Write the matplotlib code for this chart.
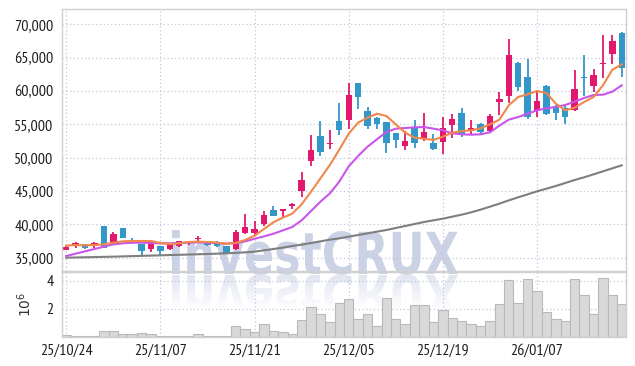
import matplotlib
matplotlib.use("Agg")
import matplotlib.pyplot as plt
import numpy as np
from matplotlib.ticker import FuncFormatter
from matplotlib.textpath import TextPath
from matplotlib.patches import PathPatch
from matplotlib.font_manager import FontProperties
from matplotlib.transforms import Affine2D, Bbox

plt.rcParams['font.family'] = ['PT Sans Narrow', 'DejaVu Sans']

# ---- data ----
tick_pos = [0, 10, 20, 30, 40, 50]
tick_labels = ["25/10/24", "25/11/07", "25/11/21", "25/12/05", "25/12/19", "26/01/07"]

opens = [36200, 36700, 37000, 36800, 39750, 37150, 39450, 37600, 37050, 36300,
         36750, 36300, 36800, 37250, 37800, 37400, 37400, 36750, 36250, 38700,
         38700, 40000, 42100, 42000, 42800, 45050, 49450, 53300, 52000, 55550,
         55700, 61150, 56950, 56000, 55350, 53650, 51750, 54500, 53000, 52150,
         52350, 54850, 56650, 54000, 55000, 54000, 58350, 59200, 64200, 62100,
         57000, 60700, 57700, 57500, 57200, 62100, 60750, 64050, 65600, 68750]
highs = [36700, 37350, 37050, 37350, 39800, 38800, 39500, 37900, 37100, 37500,
         36800, 37250, 37550, 37450, 38200, 37500, 37550, 36800, 39100, 41600,
         40450, 42000, 42700, 42300, 43200, 47800, 53450, 55550, 54200, 58150,
         61250, 61250, 57650, 56100, 55400, 53700, 54000, 55650, 56750, 53500,
         56150, 56600, 57500, 55650, 55150, 56600, 59850, 67850, 64300, 64850,
         60200, 60850, 57850, 57850, 63100, 65350, 63250, 68350, 68350, 68800]
lows = [36100, 36450, 36350, 36400, 36400, 37050, 37950, 37000, 35300, 35900,
        35300, 36150, 36650, 36900, 37500, 36750, 36550, 35700, 36100, 38500,
        38350, 39750, 41250, 41100, 42300, 44100, 48700, 50300, 51300, 53450,
        54350, 57250, 54250, 54350, 50750, 51500, 51150, 51500, 52500, 51200,
        50600, 53000, 53150, 53350, 53350, 53800, 56350, 58200, 60000, 55850,
        56100, 56400, 55700, 55100, 57000, 59200, 59850, 62000, 64000, 62100]
closes = [36600, 37150, 36500, 37150, 36400, 38550, 38000, 37250, 36050, 37300,
          36050, 37150, 37450, 37350, 37900, 36850, 36750, 35750, 38850, 39550,
          39250, 41350, 41300, 42250, 43100, 46650, 51200, 50800, 52250, 54100,
          59350, 59100, 54750, 55000, 52250, 52650, 52500, 52150, 53850, 51250,
          54500, 55750, 53350, 54400, 53850, 56200, 58750, 65350, 60600, 56100,
          58500, 56500, 56700, 56100, 60350, 61900, 62450, 64200, 67450, 63450]

ma_short = [36800, 36900, 36850, 36900, 37000, 37250, 37450, 37500, 37500, 37500,
            37200, 37050, 37150, 37350, 37400, 37350, 37250, 37100, 37200, 37650,
            38300, 39300, 40300, 41000, 41600, 43000, 44900, 46900, 48900, 51200,
            53600, 55250, 56000, 56600, 56250, 55000, 53750, 53000, 52850, 52650,
            53150, 53750, 54000, 54100, 54400, 55000, 55700, 57850, 59100, 59500,
            60000, 59700, 58100, 57100, 57500, 58350, 59100, 60850, 63200, 64000]
ma_mid = [35250, 35600, 35950, 36300, 36650, 37000, 37150, 37250, 37250, 37200,
          37150, 37150, 37200, 37250, 37300, 37250, 37200, 37100, 37180, 37450,
          37830, 38190, 38590, 39090, 39600, 40600, 42000, 43400, 44650, 46400,
          48700, 50250, 51650, 52750, 53850, 54350, 54450, 54550, 54600, 54350,
          54100, 53650, 53500, 53450, 53500, 53800, 54800, 55700, 56100, 56600,
          57100, 57400, 57600, 57900, 58400, 58950, 59400, 59450, 59900, 60850]
ma_long = [35000, 35030, 35060, 35090, 35120, 35150, 35190, 35230, 35270, 35310,
           35350, 35390, 35430, 35470, 35510, 35550, 35600, 35650, 35720, 35800,
           35900, 36100, 36300, 36500, 36750, 36950, 37200, 37450, 37700, 37900,
           38150, 38400, 38650, 38900, 39150, 39450, 39750, 40050, 40350, 40600,
           40850, 41150, 41450, 41800, 42200, 42650, 43100, 43600, 44050, 44500,
           44950, 45350, 45750, 46200, 46650, 47050, 47500, 47950, 48400, 48850]

volume = [0.17, 0.07, 0.07, 0.07, 0.45, 0.40, 0.19, 0.19, 0.26, 0.19,
          0.07, 0.07, 0.10, 0.05, 0.19, 0.07, 0.07, 0.07, 0.80, 0.55,
          0.33, 0.90, 0.40, 0.33, 0.19, 1.20, 2.10, 1.60, 1.10, 2.45,
          2.67, 1.30, 1.67, 0.80, 2.80, 1.30, 0.90, 2.24, 2.24, 1.05,
          1.95, 1.38, 1.17, 0.90, 0.76, 1.17, 2.38, 4.02, 2.45, 4.10,
          3.26, 1.80, 1.30, 1.17, 4.10, 3.00, 1.67, 4.17, 2.98, 2.33]

UP = "#e2186c"
DOWN = "#3398c8"
GRID = "#c3c7dc"
SPINE = "#d0d0d0"
WM = "#cbd2e5"
W, H = 635, 366

fig = plt.figure(figsize=(W / 100, H / 100), dpi=100, facecolor="white")

# watermark behind both panels, plus a faded mirror copy
wm_font = FontProperties(family="DejaVu Sans", weight="bold")
tp = TextPath((0, 0), "investCRUX", size=100, prop=wm_font)
ext = tp.get_extents()
sx = (458 - 172) / ext.width
sy = 44 / ext.y1
base = H - 274
tr = Affine2D().translate(-ext.x0, 0).scale(sx, sy).translate(172, base)
fig.add_artist(PathPatch(tp, transform=tr, facecolor=WM, edgecolor="none", zorder=0))
tr_ref = Affine2D().translate(-ext.x0, 0).scale(sx, -sy).translate(172, base - 1)
nb = 8
for k in range(nb):
    p = PathPatch(tp, transform=tr_ref, facecolor=WM, edgecolor="none",
                  alpha=0.55 * (1 - k / nb), zorder=0)
    p.set_clip_box(Bbox([[0, base - 1 - (k + 1) * 4], [W, base - 1 - k * 4]]))
    fig.add_artist(p)

ax = fig.add_axes([62 / W, 1 - 271 / H, 564 / W, 262 / H])
axv = fig.add_axes([62 / W, 1 - 337 / H, 564 / W, 65 / H], sharex=ax)

x = np.arange(len(closes))
o = np.array(opens)
c = np.array(closes)
colors = [UP if cc >= oo else DOWN for oo, cc in zip(o, c)]

# candles
ax.vlines(x, lows, highs, colors=colors, linewidth=1.3, zorder=2)
body = np.maximum(np.abs(c - o), 120)
ax.bar(x, body, bottom=np.minimum(o, c), width=0.68, color=colors, zorder=2)

# moving averages
ax.plot(x, ma_long, color="#7f7f7f", lw=1.5, zorder=3)
ax.plot(x, ma_mid, color="#c955ea", lw=1.5, zorder=3)
ax.plot(x, ma_short, color="#f0874b", lw=1.5, zorder=3)

ax.set_ylim(33000, 72300)
ax.set_yticks(range(35000, 70001, 5000))
ax.yaxis.set_major_formatter(FuncFormatter(lambda v, p: f"{int(v):,}"))
ax.set_xlim(-0.45, 59.45)

# volume
axv.bar(x, volume, width=1.0, color="#d9d9d9", edgecolor="#b9b9b9", linewidth=0.8, zorder=2)
axv.set_ylim(0, 4.62)
axv.set_yticks([2, 4])
axv.set_ylabel(r"$10^6$", fontsize=10, color="#333333")
axv.yaxis.set_label_coords(-0.05, 0.5)
axv.set_xticks(tick_pos)
axv.set_xticklabels(tick_labels)

for a in (ax, axv):
    a.set_facecolor("none")
    a.grid(True, color=GRID, linestyle=(0, (1, 2)), linewidth=0.9, zorder=1)
    a.set_axisbelow(True)
    a.tick_params(length=0, labelsize=11.5, colors="#1e1e1e", pad=6)
    for s in a.spines.values():
        s.set_color(SPINE)
        s.set_linewidth(1.0)
ax.tick_params(axis="x", labelbottom=False)
axv.tick_params(axis="x", pad=5)

fig.savefig("out.png", dpi=100, facecolor="white")
